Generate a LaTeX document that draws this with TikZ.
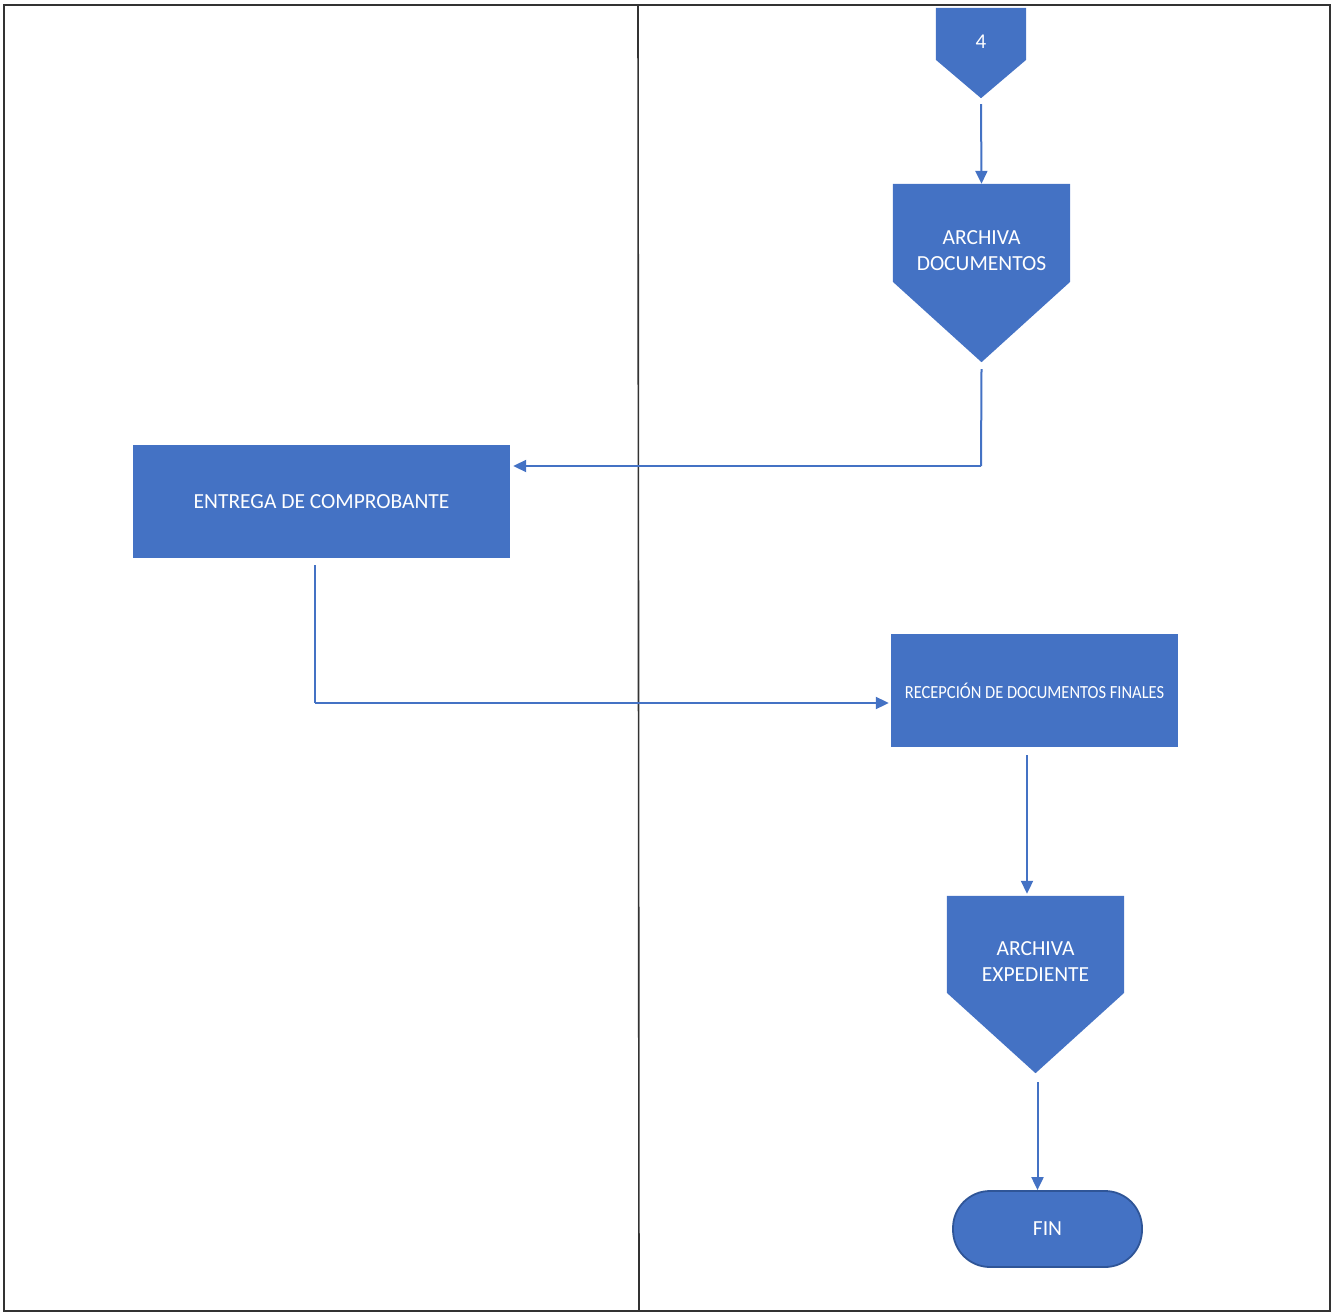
\documentclass[tikz,border=0pt]{standalone}
\usepackage{fontspec}
\setmainfont{Carlito}
\usetikzlibrary{arrows.meta,calc}
\definecolor{fcblue}{HTML}{4472C4}
\definecolor{fcdark}{HTML}{2F5597}
\begin{document}
\begin{tikzpicture}[x=1pt,y=-1pt,
  box/.style={fill=fcblue,draw=none,inner sep=0pt,text=white,align=center},
  ghost/.style={draw=none,inner sep=0pt,text=white,align=center},
  arr/.style={draw=fcblue,line width=2pt,-{Triangle[length=13pt,width=12pt]}},
  lin/.style={draw=fcblue,line width=2pt},
  frame/.style={draw=black!80,line width=1.6pt}]
\useasboundingbox (0,0) rectangle (1335,1313);
% frame and lane divider
\draw[frame] (4,5) rectangle (1330,1311);
\draw[frame] (638,5) -- (639,1311);
% off-page connector 4
\node[ghost,minimum width=90pt,minimum height=90pt] (c4) at (981,53) {};
\fill[fcblue] (c4.north west) -- (c4.north east) -- ($(c4.north east)+(0,52)$) -- (c4.south) -- ($(c4.north west)+(0,52)$) -- cycle;
\node[text=white,font=\fontsize{21}{24}\selectfont] at (981,42) {4};
% ARCHIVA DOCUMENTOS
\node[ghost,minimum width=177pt,minimum height=178pt] (ad) at (981.5,273) {};
\fill[fcblue] (ad.north west) -- (ad.north east) -- ($(ad.north east)+(0,98)$) -- (ad.south) -- ($(ad.north west)+(0,98)$) -- cycle;
\node[text=white,align=center,font=\fontsize{21.5}{26}\selectfont] at (981.5,251) {ARCHIVA\\DOCUMENTOS};
% ENTREGA DE COMPROBANTE
\node[box,minimum width=377pt,minimum height=113pt,font=\fontsize{21.5}{24}\selectfont] (ent) at (321.5,501.5) {ENTREGA DE COMPROBANTE};
% RECEPCION
\node[box,minimum width=287pt,minimum height=113pt] (rec) at (1034.5,690.5) {\fontsize{18.5}{22}\selectfont\addfontfeatures{FakeStretch=0.89}RECEPCIÓN DE DOCUMENTOS FINALES};
% ARCHIVA EXPEDIENTE
\node[ghost,minimum width=177pt,minimum height=177pt] (ae) at (1035.5,984.5) {};
\fill[fcblue] (ae.north west) -- (ae.north east) -- ($(ae.north east)+(0,97)$) -- (ae.south) -- ($(ae.north west)+(0,97)$) -- cycle;
\node[text=white,align=center,font=\fontsize{21.5}{26}\selectfont] at (1035.5,962) {ARCHIVA\\EXPEDIENTE};
% FIN
\node[fill=fcblue,draw=fcdark,line width=1.8pt,rounded corners=37pt,minimum width=189pt,minimum height=76pt,inner sep=0pt,text=white,font=\fontsize{21.5}{24}\selectfont] (fin) at (1047.5,1229) {FIN};
% connectors
\coordinate (j1) at (981,466);
\coordinate (j2) at (315,703);
\coordinate (x3) at (1027,0);
\coordinate (x4) at (1037.5,0);
\draw[arr] ($(c4.south)+(0,6)$) -- (ad.north);
\draw[lin] ($(ad.south)+(0,7)$) -- (j1);
\draw[arr] (j1) -- ($(ent.east |- j1)+(3,0)$);
\draw[lin] ($(ent.south -| j2)+(0,7)$) -- (j2);
\draw[arr] (j2) -- ($(rec.west |- j2)+(-2,0)$);
\draw[arr] ($(rec.south -| x3)+(0,8)$) -- ($(ae.north -| x3)+(0,-2)$);
\draw[arr] ($(ae.south -| x4)+(0,9)$) -- (fin.north -| x4);
\end{tikzpicture}
\end{document}
